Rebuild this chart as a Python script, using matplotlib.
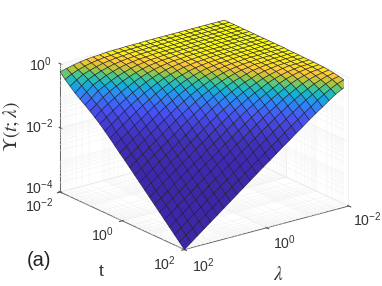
import numpy as np
import matplotlib
matplotlib.use('Agg')
import matplotlib.pyplot as plt
from matplotlib.colors import LinearSegmentedColormap

plt.rcParams['font.family'] = ['Liberation Sans', 'DejaVu Sans']

# log10 of the surface. rows: t = 1e-2..1e2, columns: lambda = 1e-2..1e2
log_upsilon = [
    [0,0,0,0,0,0,0,0,0,0,0,0,0,-.01,-.01,-.01,-.02,-.02,-.03,-.05,-.06,-.08,-.11,-.15,-.20,-.25],
    [0,0,0,0,0,0,0,0,0,0,0,0,-.01,-.01,-.01,-.02,-.02,-.03,-.05,-.06,-.09,-.12,-.17,-.23,-.31,-.42],
    [0,0,0,0,0,0,0,0,0,0,0,-.01,-.01,-.01,-.02,-.02,-.03,-.05,-.06,-.09,-.12,-.17,-.23,-.30,-.42,-.56],
    [0,0,0,0,0,0,0,0,0,0,-.01,-.01,-.01,-.02,-.02,-.03,-.05,-.06,-.09,-.12,-.17,-.23,-.30,-.39,-.53,-.70],
    [0,0,0,0,0,0,0,0,0,-.01,-.01,-.01,-.02,-.02,-.03,-.05,-.06,-.09,-.12,-.17,-.23,-.30,-.39,-.49,-.65,-.82],
    [0,0,0,0,0,0,0,0,-.01,-.01,-.01,-.02,-.02,-.03,-.05,-.06,-.09,-.12,-.17,-.23,-.30,-.39,-.49,-.60,-.77,-.93],
    [0,0,0,0,0,0,0,-.01,-.01,-.01,-.02,-.02,-.03,-.05,-.06,-.09,-.12,-.17,-.23,-.30,-.39,-.49,-.60,-.73,-.89,-1.05],
    [0,0,0,0,0,0,-.01,-.01,-.01,-.02,-.02,-.03,-.05,-.06,-.09,-.12,-.17,-.23,-.30,-.39,-.49,-.60,-.73,-.86,-1.00,-1.18],
    [0,0,0,0,0,-.01,-.01,-.01,-.02,-.02,-.03,-.05,-.06,-.09,-.12,-.17,-.23,-.30,-.39,-.49,-.60,-.73,-.86,-1.00,-1.15,-1.31],
    [0,0,0,0,-.01,-.01,-.01,-.02,-.02,-.03,-.05,-.06,-.09,-.12,-.17,-.23,-.30,-.39,-.49,-.60,-.73,-.86,-1.00,-1.15,-1.30,-1.46],
    [0,0,0,-.01,-.01,-.01,-.02,-.02,-.03,-.05,-.06,-.09,-.12,-.17,-.23,-.30,-.39,-.49,-.60,-.73,-.86,-1.00,-1.15,-1.30,-1.46,-1.61],
    [0,0,-.01,-.01,-.01,-.02,-.02,-.03,-.05,-.06,-.09,-.12,-.17,-.23,-.30,-.39,-.49,-.60,-.73,-.86,-1.00,-1.15,-1.30,-1.46,-1.61,-1.77],
    [0,-.01,-.01,-.01,-.02,-.02,-.03,-.05,-.06,-.09,-.12,-.17,-.23,-.30,-.39,-.49,-.60,-.73,-.86,-1.00,-1.15,-1.30,-1.46,-1.61,-1.77,-1.93],
    [-.01,-.01,-.01,-.02,-.02,-.03,-.05,-.06,-.09,-.12,-.17,-.23,-.30,-.39,-.49,-.60,-.73,-.86,-1.00,-1.15,-1.30,-1.46,-1.61,-1.77,-1.93,-2.08],
    [-.01,-.01,-.02,-.02,-.03,-.05,-.05,-.09,-.12,-.17,-.23,-.30,-.39,-.49,-.60,-.73,-.86,-1.00,-1.15,-1.30,-1.46,-1.61,-1.77,-1.93,-2.08,-2.24],
    [-.01,-.02,-.02,-.03,-.04,-.05,-.08,-.11,-.17,-.23,-.30,-.39,-.49,-.60,-.73,-.86,-1.00,-1.15,-1.30,-1.46,-1.61,-1.77,-1.93,-2.08,-2.24,-2.40],
    [-.02,-.02,-.03,-.04,-.05,-.08,-.11,-.16,-.23,-.30,-.39,-.49,-.60,-.73,-.86,-1.00,-1.15,-1.30,-1.46,-1.61,-1.77,-1.93,-2.08,-2.24,-2.40,-2.56],
    [-.02,-.03,-.04,-.04,-.07,-.11,-.16,-.22,-.30,-.39,-.49,-.60,-.73,-.86,-1.00,-1.15,-1.30,-1.46,-1.61,-1.77,-1.93,-2.08,-2.24,-2.40,-2.56,-2.72],
    [-.02,-.04,-.04,-.07,-.10,-.15,-.21,-.29,-.39,-.49,-.60,-.73,-.86,-1.00,-1.15,-1.30,-1.46,-1.61,-1.77,-1.93,-2.08,-2.24,-2.40,-2.56,-2.72,-2.88],
    [-.03,-.04,-.06,-.09,-.14,-.20,-.28,-.38,-.49,-.60,-.73,-.86,-1.00,-1.15,-1.30,-1.46,-1.61,-1.77,-1.93,-2.08,-2.24,-2.40,-2.56,-2.72,-2.88,-3.04],
    [-.03,-.06,-.08,-.13,-.19,-.27,-.37,-.48,-.60,-.73,-.86,-1.00,-1.15,-1.30,-1.46,-1.61,-1.77,-1.93,-2.08,-2.24,-2.40,-2.56,-2.72,-2.88,-3.04,-3.20],
    [-.05,-.08,-.12,-.18,-.26,-.36,-.47,-.59,-.73,-.86,-1.00,-1.15,-1.30,-1.46,-1.61,-1.77,-1.93,-2.08,-2.24,-2.40,-2.56,-2.72,-2.88,-3.04,-3.20,-3.36],
    [-.07,-.11,-.17,-.25,-.35,-.46,-.58,-.72,-.86,-1.00,-1.15,-1.30,-1.46,-1.61,-1.77,-1.93,-2.08,-2.24,-2.40,-2.56,-2.72,-2.88,-3.04,-3.20,-3.36,-3.52],
    [-.10,-.15,-.23,-.33,-.45,-.57,-.71,-.85,-1.00,-1.15,-1.30,-1.46,-1.61,-1.77,-1.93,-2.08,-2.24,-2.40,-2.56,-2.72,-2.88,-3.04,-3.20,-3.36,-3.52,-3.68],
    [-.14,-.21,-.31,-.43,-.56,-.71,-.85,-1.00,-1.15,-1.30,-1.46,-1.61,-1.77,-1.93,-2.08,-2.24,-2.40,-2.56,-2.72,-2.88,-3.04,-3.20,-3.36,-3.52,-3.68,-3.84],
    [-.20,-.30,-.41,-.55,-.70,-.84,-.99,-1.15,-1.30,-1.46,-1.61,-1.77,-1.93,-2.08,-2.24,-2.40,-2.56,-2.72,-2.88,-3.04,-3.20,-3.36,-3.52,-3.68,-3.84,-4.00],
]
decades_xy = [-2, 0, 2]
decades_z = [-4, -2, 0]
labels_xy = [r'$\mathdefault{10^{-2}}$', r'$\mathdefault{10^{0}}$', r'$\mathdefault{10^{2}}$']
labels_z = [r'$\mathdefault{10^{-4}}$', r'$\mathdefault{10^{-2}}$', r'$\mathdefault{10^{0}}$']
parula_stops = [(.2422,.1504,.6603), (.2810,.3228,.9579), (.1786,.5289,.9682), (.0689,.6948,.8394),
                (.2161,.7843,.5923), (.6720,.7793,.2227), (.9970,.7659,.2199), (.9769,.9839,.0805)]

parula = LinearSegmentedColormap.from_list('parula', parula_stops)
Z = np.array(log_upsilon)
t_grid, lam_grid = np.meshgrid(np.linspace(-2, 2, Z.shape[0]), np.linspace(-2, 2, Z.shape[1]), indexing='ij')

fig = plt.figure(figsize=(3.82, 2.86), dpi=100)
ax = fig.add_axes([0.025, 0.015, 1.0, 1.0], projection='3d', proj_type='ortho')
ax.view_init(elev=20.5, azim=-37.1)
ax.set_box_aspect((1, 1, 0.665), zoom=1.093)
ax.computed_zorder = False

surf = ax.plot_surface(t_grid, lam_grid, Z, facecolors=parula(10.0 ** Z), rcount=26, ccount=26,
                       shade=False, linewidth=0.45, zorder=5)
surf.set_edgecolor((0.1, 0.1, 0.15, 0.85))

# minor log grid on the floor and the two back walls
minors = [d + np.log10(m) for d in range(-2, 2) for m in range(2, 10)]
minors_z = [d + np.log10(m) for d in range(-4, 0) for m in range(2, 10)]
grid_kw = dict(color='#f0f0f0', lw=0.35, zorder=1)
for m in minors:
    ax.plot([m, m], [-2, 2], [-4, -4], **grid_kw)
    ax.plot([-2, 2], [m, m], [-4, -4], **grid_kw)
    ax.plot([-2, -2], [m, m], [-4, 0], **grid_kw)
    ax.plot([m, m], [-2, -2], [-4, 0], **grid_kw)
for m in minors_z:
    ax.plot([-2, -2], [-2, 2], [m, m], **grid_kw)
    ax.plot([-2, 2], [-2, -2], [m, m], **grid_kw)

ax.set_xlim(-2, 2, view_margin=0)
ax.set_ylim(2, -2, view_margin=0)
ax.set_zlim(-4, 0, view_margin=0)
ax.set_xticks(decades_xy, ['', '', ''])
ax.set_yticks(decades_xy, ['', '', ''])
ax.set_zticks(decades_z, ['', '', ''])
ax.zaxis.set_ticks_position('upper')
ax.tick_params(length=2, width=0.5, colors='#555555')

for a in (ax.xaxis, ax.yaxis, ax.zaxis):
    a.set_pane_color((1, 1, 1, 0))
    a.pane.set_edgecolor('#e8e8e8')
    a.line.set_color('#666666')
    a.line.set_linewidth(0.7)
    a._axinfo['grid'].update(color='#e6e6e6', linewidth=0.4)

# mplot3d resets label transforms at draw time, so labels are put on the figure in pixels
def put(px, py, s, **kw):
    kw.setdefault('color', '#333333')
    fig.text(px / 382, 1 - py / 286, s, ha='center', va='center', **kw)

for lab, px, py in zip(labels_xy, [39, 102, 164], [206, 235, 264]):
    put(px, py, lab, fontsize=10.2)
for lab, px, py in zip(labels_xy, [367, 284, 203], [220, 243, 266]):
    put(px, py, lab, fontsize=10.2)
for lab, px, py in zip(labels_z, [39, 39, 40], [188, 127, 65]):
    put(px, py, lab, fontsize=10.2)
put(101, 272, 't', fontsize=12.5)
put(278, 275, r'$\lambda$', fontsize=14, math_fontfamily='stix')
put(12, 127, r'$\Upsilon(t;\lambda)$', fontsize=14, rotation=90, math_fontfamily='stix')
put(39, 260, '(a)', fontsize=14.5, color='#222222')

fig.savefig('out.png', dpi=100)
